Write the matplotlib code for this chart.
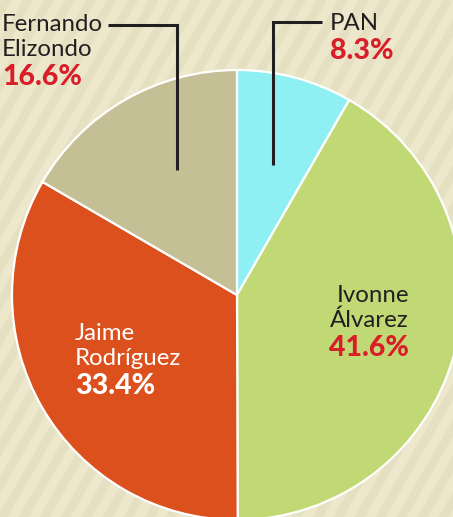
import numpy as np
import matplotlib.pyplot as plt
from matplotlib.patches import Polygon

W, H = 453, 517

names = ['PAN', 'Ivonne\nÁlvarez', 'Jaime\nRodríguez', 'Fernando\nElizondo']
shares = [8.3, 41.6, 33.4, 16.6]
colors = ['#8FF0F3', '#C1D974', '#DC501D', '#C5BF96']
pct_labels = ['8.3%', '41.6%', '33.4%', '16.6%']

BG = '#EDE8CB'
STRIPE = '#E6E0C3'
RED = '#D91E2A'
DARK = '#231F20'

fig = plt.figure(figsize=(W / 100, H / 100), dpi=100)
ax = fig.add_axes([0, 0, 1, 1])
fig.patch.set_facecolor(BG)

# diagonal stripes in the background
slope = np.tan(np.radians(60))
dx = H / slope
for x0 in np.arange(-dx - 40, W + 40, 21):
    ax.add_patch(Polygon([(x0, 0), (x0 + 10, 0), (x0 + 10 + dx, H), (x0 + dx, H)],
                         closed=True, facecolor=STRIPE, edgecolor='none', zorder=0))

# pie, y up: center at pixel (237, 295)
cx, cy, r = 237, H - 295, 225
ax.pie(shares, colors=colors, startangle=90, counterclock=False,
       center=(cx, cy), radius=r, frame=True,
       wedgeprops=dict(edgecolor='white', linewidth=1.6))
ax.set_xlim(0, W)
ax.set_ylim(0, H)
ax.axis('off')

font = 'Lato'
fs_name = 17.3
fs_pct = 20.5

def label(x, y, name, pct, ha, name_color, pct_color):
    lines = name.split('\n')
    for i, ln in enumerate(lines):
        ax.text(x, H - (y + i * 25), ln, ha=ha, va='baseline', fontsize=fs_name,
                family=font, color=name_color, zorder=5)
    ax.text(x, H - (y + len(lines) * 25 + 4), pct, ha=ha, va='baseline', fontsize=fs_pct,
            family=font, weight='black', color=pct_color, zorder=5)

label(2, 31, names[3], pct_labels[3], 'left', DARK, RED)
label(330, 30, names[0], pct_labels[0], 'left', DARK, RED)
label(409, 302, names[1], pct_labels[1], 'right', DARK, RED)
label(75, 340, names[2], pct_labels[2], 'left', 'white', 'white')

# leader lines
ax.plot([108, 177, 177], [H - 25, H - 25, H - 170], color=DARK, lw=2.2,
        solid_capstyle='butt', solid_joinstyle='miter', zorder=6)
ax.plot([322, 273, 273], [H - 22, H - 22, H - 165], color=DARK, lw=2.2,
        solid_capstyle='butt', solid_joinstyle='miter', zorder=6)

fig.savefig('out.png', dpi=100, facecolor=BG)
